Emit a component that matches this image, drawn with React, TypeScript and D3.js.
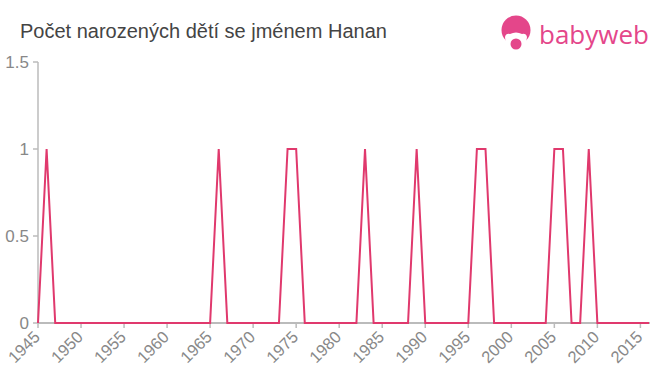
import React from "react";
import * as d3 from "d3";

const years: number[] = d3.range(1945, 2017);
const oneYears: number[] = [1946, 1966, 1974, 1975, 1983, 1989, 1996, 1997, 2005, 2006, 2009];
const values: number[] = years.map((y) => (oneYears.includes(y) ? 1 : 0));
const xTicks: number[] = d3.range(1945, 2016, 5);
const yTicks: number[] = [0, 0.5, 1, 1.5];
const title = "Počet narozených dětí se jménem Hanan";

export default function App() {
  const W = 660, H = 375;
  const x = d3.scaleLinear().domain([1945, 2016]).range([38, 649]);
  const y = d3.scaleLinear().domain([0, 1.5]).range([323, 62]);
  const line = d3.line<number>().x((_, i) => x(years[i])).y((d) => y(d));
  const axisColor = "#bbb";
  const labelColor = "#888";
  const pink = "#e0396d";
  const logo = "#e4468a";
  return (
    <svg width={W} height={H} style={{ position: "absolute", left: 0, top: 0, fontFamily: "Liberation Sans, Arial, sans-serif" }}>
      <text x={20} y={38} fontSize={20} fill="#444">{title}</text>
      {/* logo */}
      <g>
        <circle cx={516} cy={30} r={14.5} fill={logo} />
        <path d="M505,37 Q506,33 510,34 Q516,31 522,34 Q526,33 527,37 Q527,46 516,47 Q505,46 505,37 Z" fill="#fff" />
        <circle cx={516} cy={44} r={5.5} fill={logo} />
        <text x={539} y={44} fontSize={26} fill={logo} fontFamily="Open Sans, Liberation Sans, sans-serif">babyweb</text>
      </g>
      {/* y axis */}
      <line x1={38} x2={38} y1={y(1.5)} y2={y(0)} stroke={axisColor} strokeWidth={1.5} />
      {yTicks.map((t) => (
        <g key={t}>
          <line x1={33} x2={38} y1={y(t)} y2={y(t)} stroke={axisColor} strokeWidth={1.5} />
          <text x={29} y={y(t) + 6} textAnchor="end" fontSize={17} fill={labelColor}>{t}</text>
        </g>
      ))}
      {/* x axis */}
      <line x1={38} x2={650} y1={y(0)} y2={y(0)} stroke={axisColor} strokeWidth={2} />
      {xTicks.map((t) => (
        <g key={t}>
          <line x1={x(t)} x2={x(t)} y1={y(0)} y2={y(0) + 5} stroke={axisColor} strokeWidth={1.5} />
          <text
            transform={`translate(${x(t) + 3},${y(0) + 15}) rotate(-45)`}
            textAnchor="end"
            fontSize={16.5}
            fill={labelColor}
          >
            {t}
          </text>
        </g>
      ))}
      <path d={line(values) || ""} fill="none" stroke={pink} strokeWidth={2} strokeLinejoin="miter" />
    </svg>
  );
}
